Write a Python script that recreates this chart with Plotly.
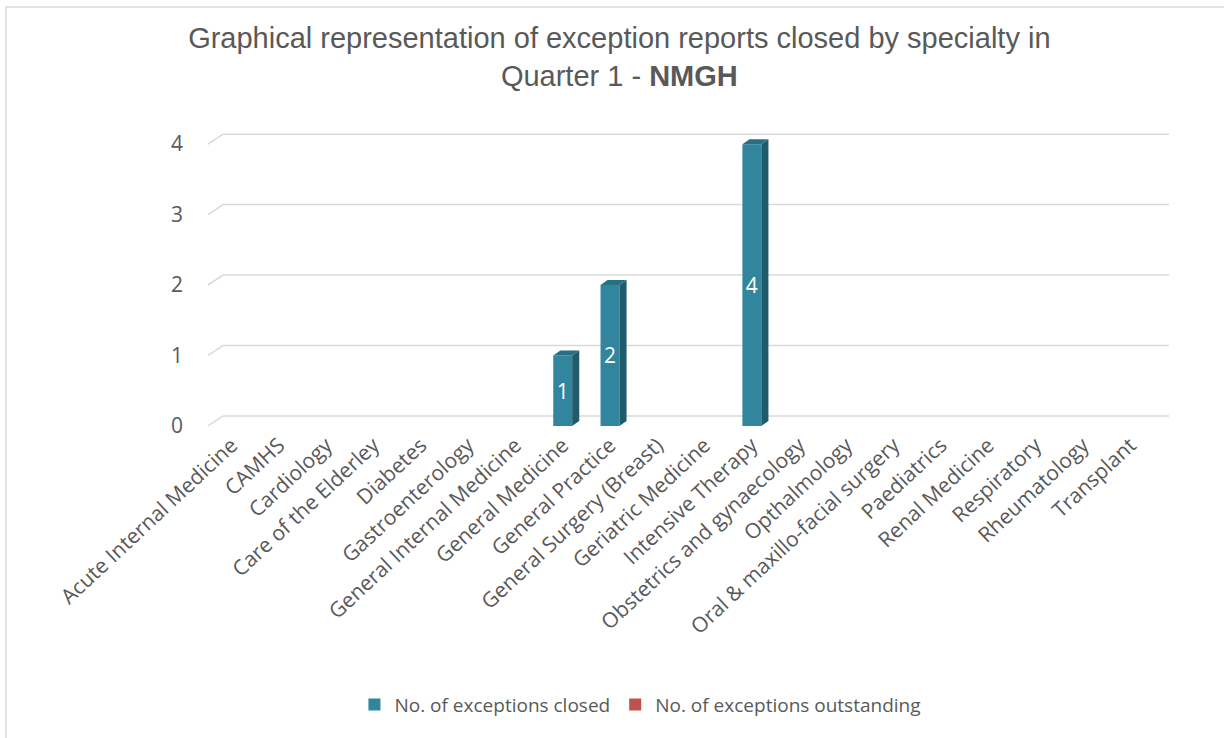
import plotly.graph_objects as go

categories = ["Acute Internal Medicine", "CAMHS", "Cardiology", "Care of the Elderley",
              "Diabetes", "Gastroenterology", "General Internal Medicine", "General Medicine",
              "General Practice", "General Surgery (Breast)", "Geriatric Medicine",
              "Intensive Therapy", "Obstetrics and gynaecology", "Opthalmology",
              "Oral & maxillo-facial surgery", "Paediatrics", "Renal Medicine",
              "Respiratory", "Rheumatology", "Transplant"]
closed = [0, 0, 0, 0, 0, 0, 0, 1, 2, 0, 0, 4, 0, 0, 0, 0, 0, 0, 0, 0]
outstanding = [0] * 20
y_ticks = [0, 1, 2, 3, 4]

W, H = 1224, 738
ML, MR, MT, MB = 208, 55, 123, 310
XR = [-0.5, 19.82]
YR = [-0.03, 4.3]

FRONT = "#31859C"
SIDE = "#1F5B6B"
TOP = "#276F82"
TXT = "#595959"
GRID = "#D9D9D9"

bw = 0.40          # bar width (category units)
bdx, bdy = 0.15, 0.071   # bar depth offset
gdx, gdy = 0.32, 0.142   # wall/grid depth offset

xs = list(range(len(categories)))

fig = go.Figure()

# side and top faces (3D look), drawn from the data values
for i, v in zip(xs, closed):
    if v <= 0:
        continue
    r = i + bw / 2
    l = i - bw / 2
    fig.add_trace(go.Scatter(x=[r, r + bdx, r + bdx, r, r], y=[0, bdy, v + bdy, v, 0],
                             fill="toself", fillcolor=SIDE, line=dict(width=0),
                             mode="lines", hoverinfo="skip", showlegend=False))
    fig.add_trace(go.Scatter(x=[l, l + bdx, r + bdx, r, l], y=[v, v + bdy, v + bdy, v, v],
                             fill="toself", fillcolor=TOP, line=dict(width=0),
                             mode="lines", hoverinfo="skip", showlegend=False))

fig.add_trace(go.Bar(x=xs, y=closed, width=bw, name="No. of exceptions closed",
                     marker=dict(color=FRONT, line=dict(width=0)),
                     text=[str(v) if v else "" for v in closed], textposition="inside",
                     insidetextanchor="middle", textangle=0,
                     textfont=dict(color="white", size=21, family="Open Sans")))
fig.add_trace(go.Bar(x=xs, y=outstanding, width=bw, name="No. of exceptions outstanding",
                     marker=dict(color="#C0504D", line=dict(width=0))))

shapes = []
for k in y_ticks:
    shapes.append(dict(type="path", xref="x", yref="y", layer="below",
                       path=f"M {XR[0]},{k} L {XR[0] + gdx},{k + gdy} L {XR[1]},{k + gdy}",
                       line=dict(color=GRID, width=1.5)))
# outer chart frame
pw, ph = W - ML - MR, H - MT - MB
fx = (6 - ML) / pw
fy_top = (H - 7 - MB) / ph
fy_bot = -(MB + 5) / ph
fx_right = (W + 5 - ML) / pw
shapes.append(dict(type="path", xref="paper", yref="paper", layer="below",
                   path=f"M {fx},{fy_bot} L {fx},{fy_top} L {fx_right},{fy_top}",
                   line=dict(color=GRID, width=1.5)))

fig.update_layout(
    width=W, height=H,
    margin=dict(l=ML, r=MR, t=MT, b=MB),
    paper_bgcolor="white", plot_bgcolor="white",
    barmode="overlay",
    shapes=shapes,
    title=dict(text="Graphical representation of exception reports closed by specialty in<br>Quarter 1 - <b>NMGH</b>",
               x=0.506, xanchor="center", y=0.935, yanchor="top",
               font=dict(family="Liberation Sans, Arial", size=29, color=TXT)),
    xaxis=dict(range=XR, tickmode="array", tickvals=xs, ticktext=categories,
               tickangle=-43, showgrid=False, zeroline=False, showline=False,
               tickfont=dict(family="Open Sans", size=21, color=TXT)),
    yaxis=dict(range=YR, tickmode="array", tickvals=y_ticks, showgrid=False,
               zeroline=False, showline=False, ticklabelstandoff=24,
               tickfont=dict(family="Open Sans", size=21, color=TXT)),
    legend=dict(orientation="h", x=0.45, xanchor="center", y=-0.907, yanchor="middle",
                font=dict(family="Open Sans", size=19, color=TXT),
                itemwidth=30, traceorder="normal"),
    showlegend=True,
)

fig.write_html("out.html")
